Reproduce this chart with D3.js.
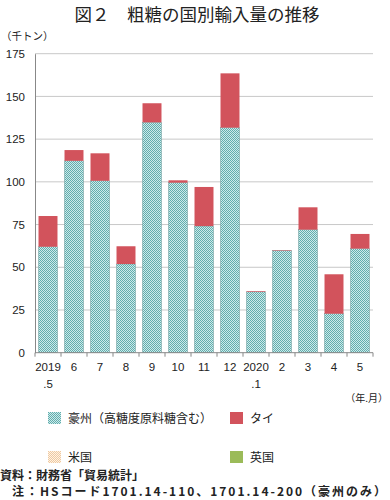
<!DOCTYPE html>
<html><head><meta charset="utf-8">
<script src="https://cdn.jsdelivr.net/npm/d3@7/dist/d3.min.js"></script>
<style>body{margin:0;background:#fff;}svg{display:block;font-family:"Noto Sans CJK JP","Noto Sans",sans-serif;}</style>
</head><body><svg id="c" width="390" height="500"></svg>
<script>
const months = ["2019.5","6","7","8","9","10","11","12","2020.1","2","3","4","5"];
const tickTop = ["2019","6","7","8","9","10","11","12","2020","2","3","4","5"];
const tickBottom = [".5","","","","","","","",".1","","","",""];
const australia = [62, 112.3, 100.6, 51.9, 134.8, 99.5, 74.1, 131.7, 35.6, 59.7, 72, 22.8, 60.9];
const thailand = [18, 6.3, 16.1, 10.4, 11.2, 1.4, 22.9, 31.8, 0.4, 0.3, 13.1, 23.1, 8.6];
const usa = [0,0,0,0,0,0,0,0,0,0,0,0,0];
const uk = [0,0,0,0,0,0,0,0,0,0,0,0,0];
const yTicks = [0,25,50,75,100,125,150,175];
const seriesNames = ["豪州（高糖度原料糖含む）","タイ","米国","英国"];

const svg = d3.select("#c");
const defs = svg.append("defs");
function checker(id, a, b){
  const p = defs.append("pattern").attr("id",id).attr("width",2).attr("height",2).attr("patternUnits","userSpaceOnUse");
  p.append("rect").attr("width",2).attr("height",2).attr("fill",b);
  p.append("rect").attr("width",1).attr("height",1).attr("fill",a);
  p.append("rect").attr("x",1).attr("y",1).attr("width",1).attr("height",1).attr("fill",a);
}
checker("pAus","#62adad","#cdeaea");
checker("pUS","#f0c9a0","#fdf3e6");

const L=35, R=373, T=53.7, B=352.7;
const x = d3.scaleBand().domain(months).range([L,R]).paddingInner(0.27).paddingOuter(0.135);
const y = d3.scaleLinear().domain([0,175]).range([B,T]);

// title
svg.append("text").attr("x",197).attr("y",21).attr("text-anchor","middle").attr("font-size",17.5).attr("fill","#222").text("図２　粗糖の国別輸入量の推移");
svg.append("text").attr("x",1).attr("y",40).attr("font-size",10.5).attr("fill","#222").text("（千トン）");

// grid
svg.append("g").selectAll("line").data(yTicks.filter(d=>d>0)).join("line")
  .attr("x1",L).attr("x2",R).attr("y1",d=>y(d)).attr("y2",d=>y(d)).attr("stroke","#c8c8c8").attr("stroke-width",1);

// y axis
const ya = svg.append("g").attr("transform",`translate(${L},0)`).call(d3.axisLeft(y).tickValues(yTicks).tickSize(0).tickPadding(10));
ya.select(".domain").attr("stroke","#888");
ya.selectAll("text").attr("font-size",11.5).attr("fill","#222").attr("font-family","Liberation Sans, Arial, sans-serif");

// stacks
const stackData = months.map((m,i)=>({m, aus:australia[i], thai:thailand[i], us:usa[i], uk:uk[i]}));
const keys = ["aus","thai","us","uk"];
const fills = {aus:"url(#pAus)", thai:"#d2535c", us:"url(#pUS)", uk:"#9bbb59"};
const stacked = d3.stack().keys(keys)(stackData);
svg.append("g").selectAll("g").data(stacked).join("g").attr("fill",s=>fills[s.key])
  .selectAll("rect").data(s=>s.filter(d=>d[1]-d[0]>0)).join("rect")
  .attr("x",d=>x(d.data.m)).attr("width",x.bandwidth())
  .attr("y",d=>y(d[1])).attr("height",d=>y(d[0])-y(d[1]))
  .attr("stroke", function(){ return d3.select(this.parentNode).datum().key==="aus" ? "#6a9a9a" : "none"; })
  .attr("stroke-width",0.5);

// x axis
const step = x.step();
const xa = svg.append("g");
xa.append("line").attr("x1",L).attr("x2",R).attr("y1",B).attr("y2",B).attr("stroke","#888");
const bounds = d3.range(months.length+1).map(i=>L+i*step);
xa.selectAll("line.t").data(bounds).join("line").attr("class","t")
  .attr("x1",d=>d).attr("x2",d=>d).attr("y1",B).attr("y2",B+4).attr("stroke","#888");
xa.selectAll("text.a").data(months).join("text").attr("class","a")
  .attr("x",d=>x(d)+x.bandwidth()/2).attr("y",371).attr("text-anchor","middle")
  .attr("font-size",11.5).attr("fill","#222").attr("font-family","Liberation Sans, Arial, sans-serif")
  .text((d,i)=>tickTop[i]);
xa.selectAll("text.b").data(months).join("text").attr("class","b")
  .attr("x",d=>x(d)+x.bandwidth()/2).attr("y",388).attr("text-anchor","middle")
  .attr("font-size",11.5).attr("fill","#222").attr("font-family","Liberation Sans, Arial, sans-serif")
  .text((d,i)=>tickBottom[i]);
svg.append("text").attr("x",388).attr("y",402).attr("text-anchor","end").attr("font-size",10).attr("fill","#222").text("（年.月）");

// legend
const legPos = [[48,412],[230,412],[48,451],[230,451]];
const legFill = [fills.aus, fills.thai, fills.us, fills.uk];
const lg = svg.append("g").selectAll("g").data(seriesNames).join("g").attr("transform",(d,i)=>`translate(${legPos[i][0]},${legPos[i][1]})`);
lg.append("rect").attr("width",13).attr("height",12).attr("fill",(d,i)=>legFill[i]);
lg.append("text").attr("x",20).attr("y",11).attr("font-size",12).attr("fill","#222").text(d=>d);

// notes
svg.append("text").attr("x",0).attr("y",480).attr("font-size",12).attr("font-weight","bold").attr("fill","#222").text("資料：財務省「貿易統計」");
svg.append("text").attr("x",12).attr("y",496).attr("font-size",12).attr("font-weight","bold").attr("fill","#222").attr("textLength",374).attr("lengthAdjust","spacing").text("注：HSコード1701.14-110、1701.14-200（豪州のみ）");
</script></body></html>
